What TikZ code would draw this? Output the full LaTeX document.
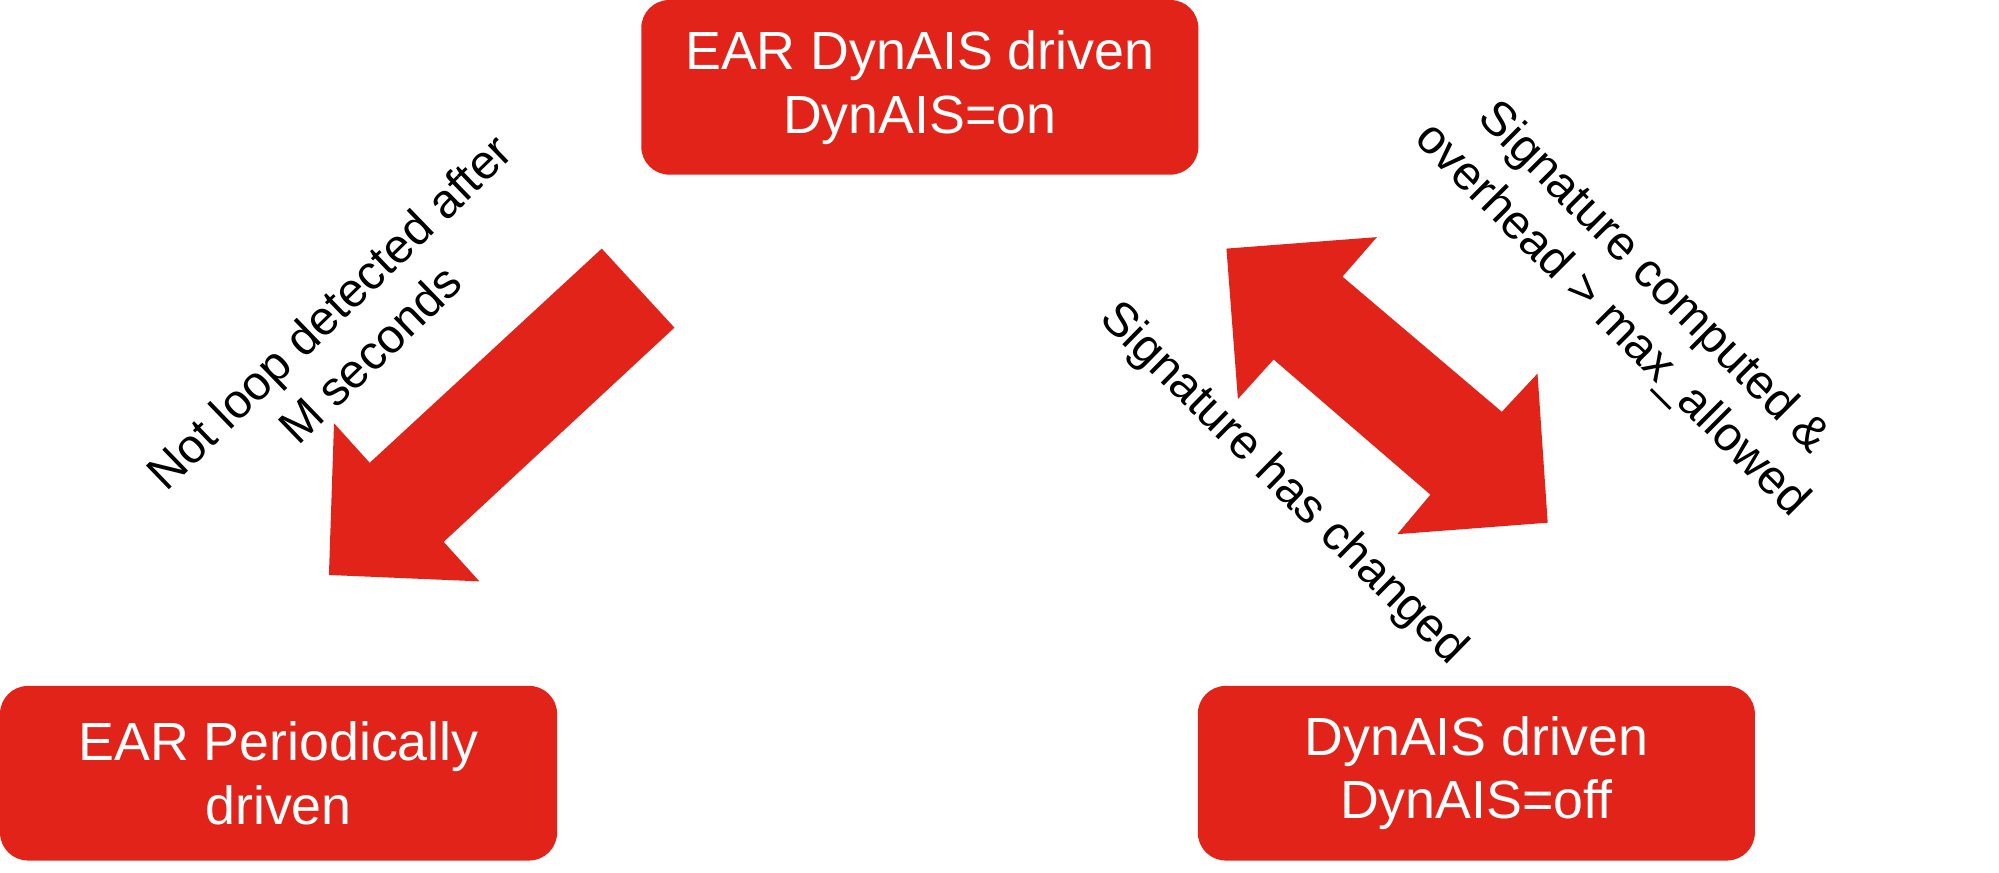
\documentclass[tikz,border=0pt]{standalone}
\usepackage{fontspec}
\setmainfont{Liberation Sans}
\definecolor{earred}{RGB}{226,35,26}

\begin{document}
\begin{tikzpicture}

\tikzset{state/.style = {shape=rectangle, rounded corners=0.22cm, fill=earred, text=white, minimum width=4.37cm, minimum height=1.37cm, align=center, font=\fontsize{12}{14.2}\selectfont}}
\tikzset{note/.style = {align=center, font=\fontsize{10.7}{13.2}\selectfont}}
\tikzset{bigarrow/.style = {fill=earred}}
\useasboundingbox (0,0) rectangle (15.68,-6.84);
%states
\node[state] (on) at (7.215,-0.685) {EAR DynAIS driven\\DynAIS=on};
\node[state] (periodic) at (2.185,-6.065) {EAR Periodically\\driven};
\node[state] (off) at (11.58,-6.065) {DynAIS driven\\DynAIS=off};
%arrows
\fill[bigarrow] (4.72,-1.95) -- (5.29,-2.57) -- (3.48,-4.25) -- (3.76,-4.56)
  -- (2.58,-4.51) -- (2.62,-3.32) -- (2.90,-3.63) -- cycle;
\fill[bigarrow] (9.62,-1.95) -- (10.80,-1.86) -- (10.53,-2.17) -- (11.78,-3.23)
  -- (12.06,-2.93) -- (12.14,-4.10) -- (10.96,-4.19) -- (11.22,-3.88)
  -- (9.99,-2.82) -- (9.71,-3.13) -- cycle;
%labels
\node[note, rotate=44] (lost) at (2.74,-2.61) {Not loop detected after\\M seconds};
\node[note, rotate=-45] (over) at (12.80,-2.35) {Signature computed \&\\overhead > max\_allowed};
\node[note, rotate=-44.5] (changed) at (10.06,-3.80) {Signature has changed};

\end{tikzpicture}
\end{document}
